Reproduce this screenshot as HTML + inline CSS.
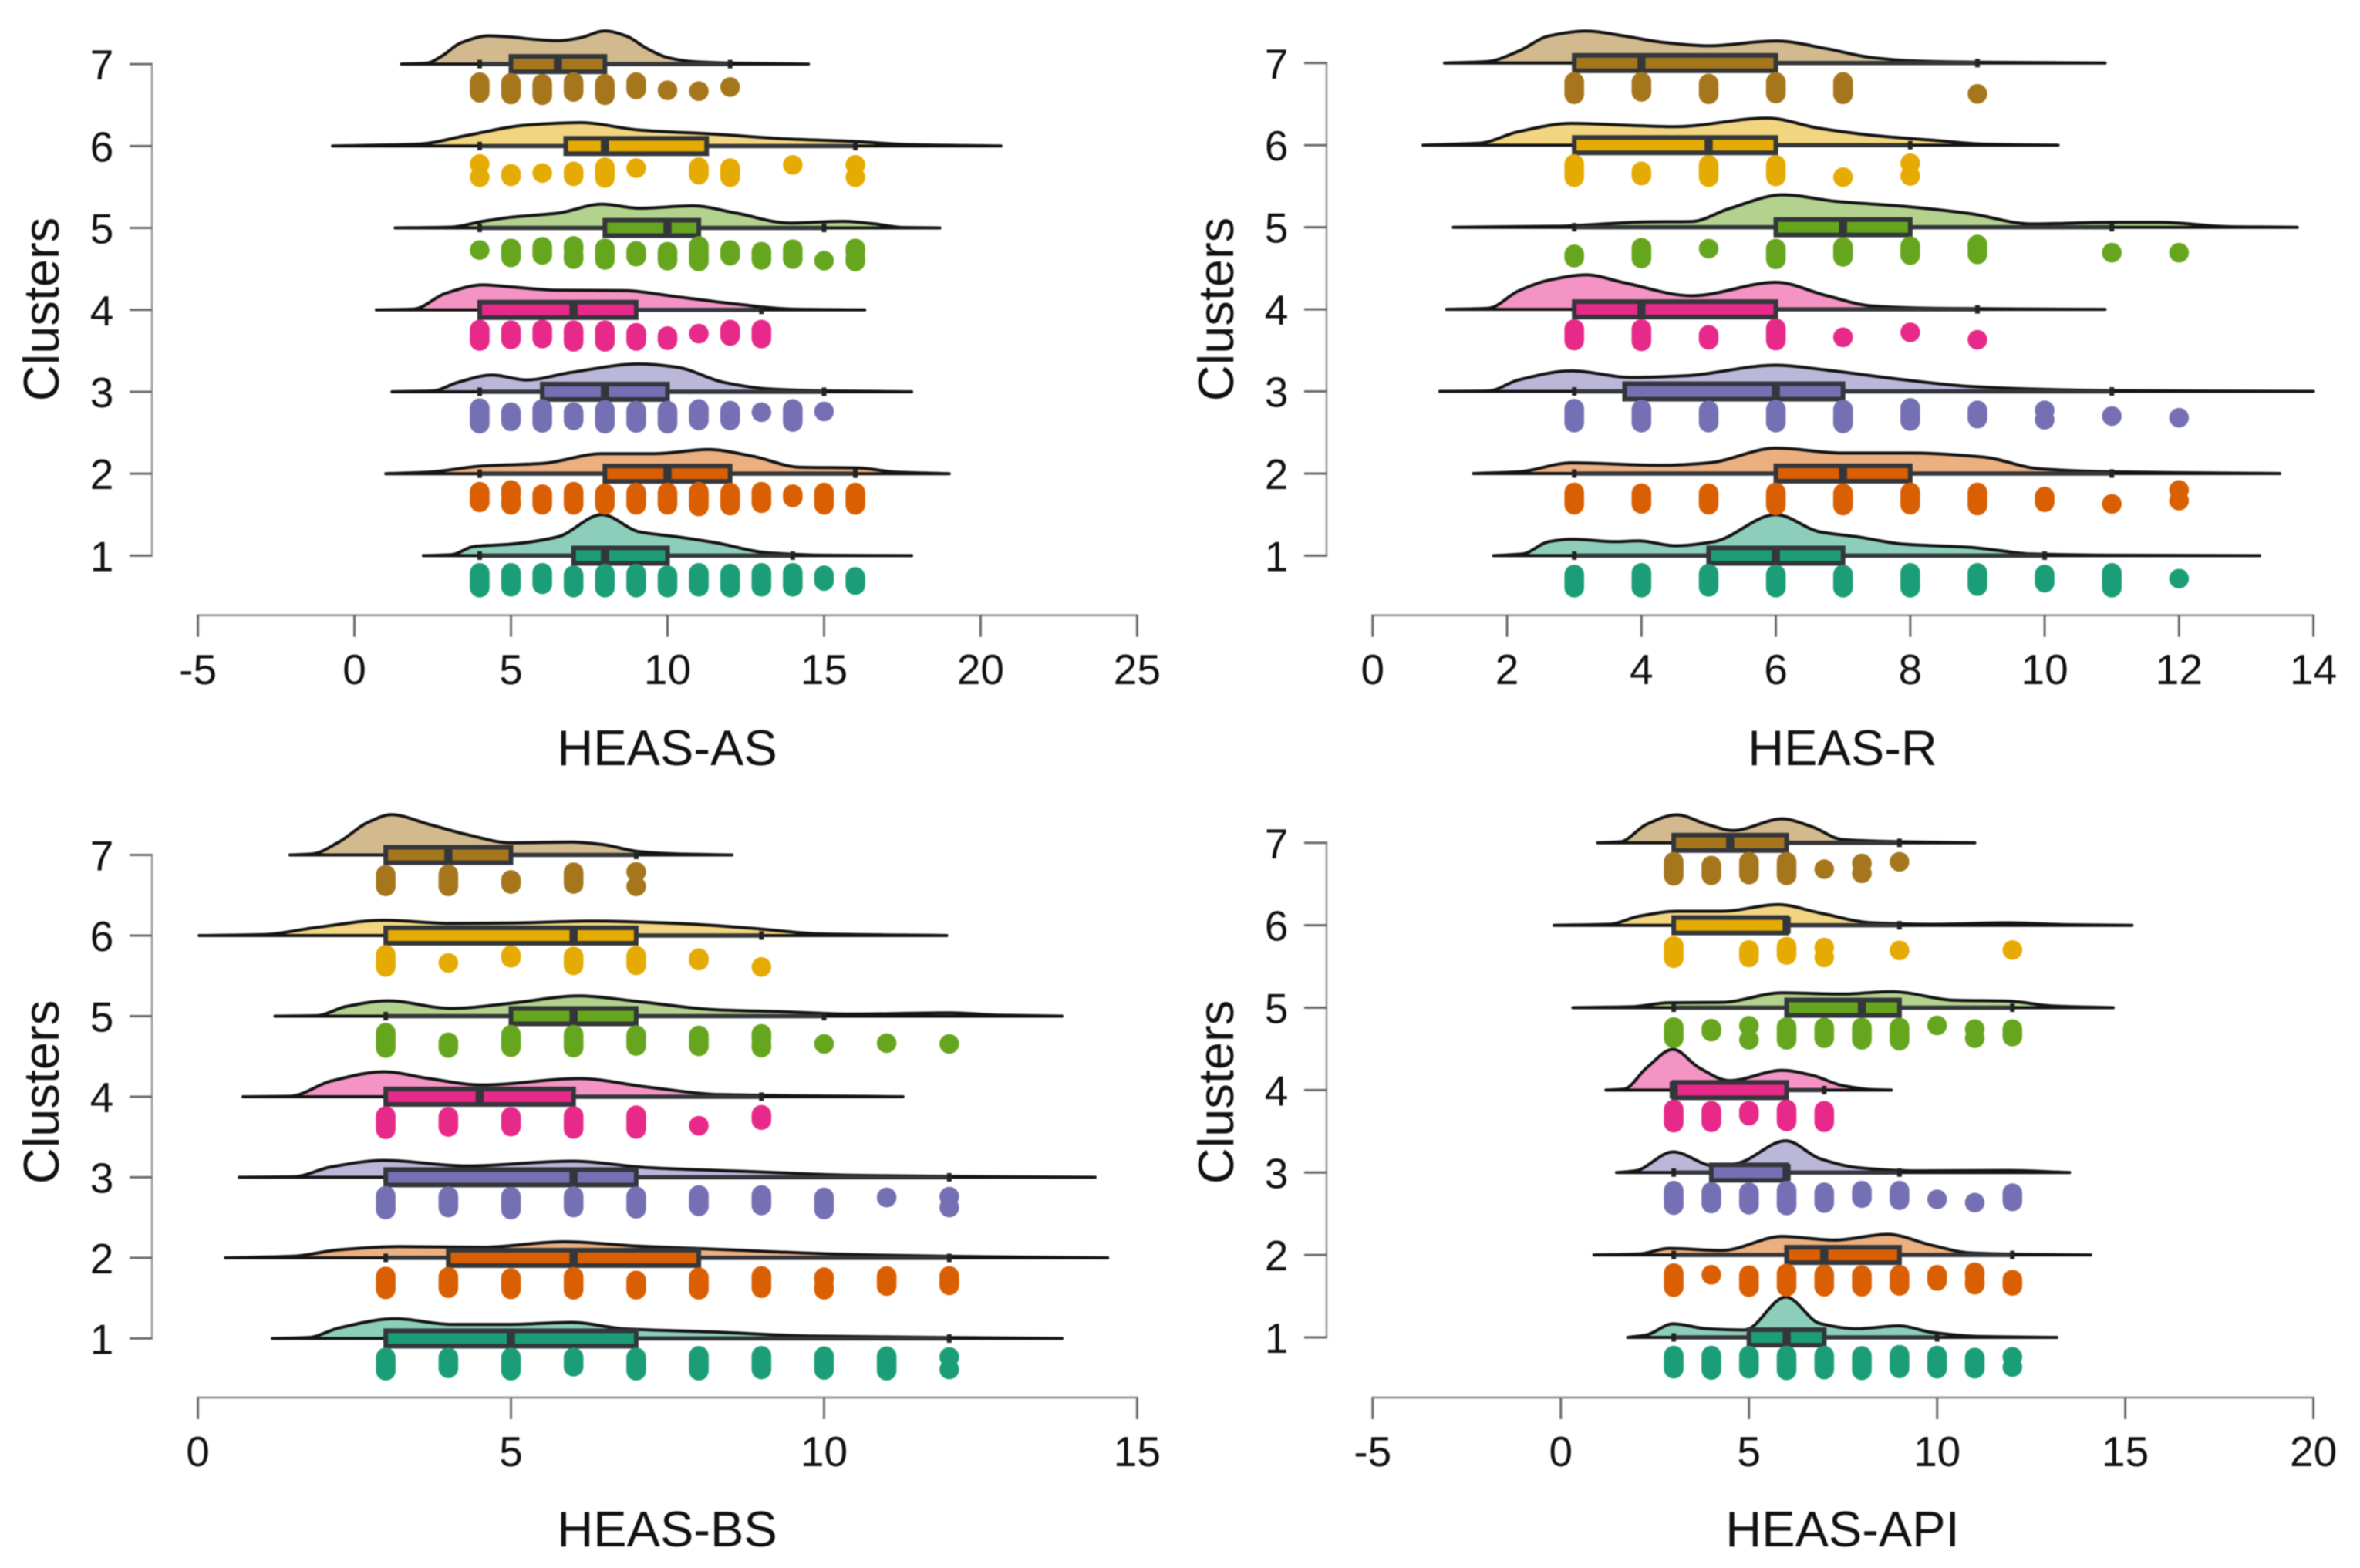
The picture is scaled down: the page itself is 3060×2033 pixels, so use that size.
<!DOCTYPE html>
<html lang="en">
<head>
<meta charset="utf-8">
<title>HEAS raincloud plots by cluster</title>
<style>
html,body{margin:0;padding:0;background:#fff;}
svg{display:block;filter:blur(0.7px);}
text{font-family:"Liberation Sans",sans-serif;fill:#111;}
.tick{font-size:55px;text-anchor:middle;}
.title{font-size:65px;text-anchor:middle;}
</style>
</head>
<body>
<svg id="chart" xmlns="http://www.w3.org/2000/svg" width="3060" height="2033" viewBox="0 0 3060 2033">
  <rect x="0" y="0" width="3060" height="2033" fill="#ffffff"/>
  <g id="panel-as"></g>
  <g id="panel-r"></g>
  <g id="panel-bs"></g>
  <g id="panel-api"></g>
  <text class="title" x="865" y="992">HEAS-AS</text>
  <text class="title" x="2389" y="992">HEAS-R</text>
  <text class="title" x="865" y="2005">HEAS-BS</text>
  <text class="title" x="2389" y="2005">HEAS-API</text>
  <text class="title" transform="translate(76,401) rotate(-90)">Clusters</text>
  <text class="title" transform="translate(1599,401) rotate(-90)">Clusters</text>
  <text class="title" transform="translate(76,1416) rotate(-90)">Clusters</text>
  <text class="title" transform="translate(1599,1416) rotate(-90)">Clusters</text>
</svg>
<script>
// Cluster order, bottom to top
const clusters = [1, 2, 3, 4, 5, 6, 7];
const palette = ['#1B9E77', '#D95F02', '#7570B3', '#E7298A', '#66A61E', '#E6AB02', '#A6761D'];

// Tick labels
const asTicks = [-5, 0, 5, 10, 15, 20, 25];
const rTicks = [0, 2, 4, 6, 8, 10, 12, 14];
const bsTicks = [0, 5, 10, 15];
const apiTicks = [-5, 0, 5, 10, 15, 20];

// Box summaries per cluster: q1, median, q3, whisker low, whisker high
const asBoxes = [[7,8,10,4,14],[8,10,12,4,16],[6,8,10,4,15],[4,7,9,4,13],[8,10,11,4,15],[6.75,8,11.25,4,16],[5,6.5,8,4,12]];
const rBoxes = [[5,6,7,3,10],[6,7,8,3,11],[3.75,6,7,3,11],[3,4,6,3,9],[6,7,8,3,11],[3,5,6,3,8],[3,4,6,3,9]];
const bsBoxes = [[3,5,7,3,12],[4,6,8,3,12],[3,6,7,3,12],[3,4.5,6,3,9],[5,6,7,3,10],[3,6,7,3,9],[3,4,5,3,7]];
const apiBoxes = [[5,6,7,3,10],[6,7,9,3,12],[4,6,6,3,9],[3,3,6,3,7],[6,8,9,3,12],[3,6,6,3,9],[3,4.5,6,3,9]];

// Density outlines per cluster: [score, density height in cluster-row units]
const asDensity = [
 [[2.2,0],[3.1,.01],[3.8,.11],[5,.14],[6.5,.23],[7.9,.5],[9.1,.29],[10.3,.23],[11.5,.16],[13.2,.035],[15,.005],[17.8,0]],
 [[1,0],[2.4,.02],[4.1,.095],[6,.125],[7.9,.245],[9.6,.245],[11.3,.295],[12.7,.215],[14.2,.08],[16.1,.07],[17.3,.02],[19,0]],
 [[1.2,0],[2.5,.01],[3.3,.115],[4.4,.205],[5.5,.145],[6.9,.235],[9.1,.34],[10.3,.3],[11.8,.115],[13.2,.035],[15.1,.01],[17.8,0]],
 [[.7,0],[1.9,.01],[2.9,.2],[4.1,.305],[5,.28],[6.5,.24],[8.6,.235],[10.3,.16],[12.2,.07],[13.9,.01],[16.3,0]],
 [[1.3,0],[3.1,.01],[4.1,.08],[5,.13],[6.5,.18],[7.9,.29],[9.1,.24],[10.8,.27],[12.2,.18],[13.9,.06],[15.6,.08],[16.6,.05],[17.5,.005],[18.7,0]],
 [[-.7,0],[2.1,.025],[3.6,.13],[5.5,.255],[7.2,.285],[9.1,.195],[11.5,.145],[13.9,.085],[16,.055],[17.5,.02],[20.65,0]],
 [[1.5,0],[2.3,.01],[2.8,.1],[3.4,.26],[4.3,.345],[5,.33],[5.8,.3],[6.5,.285],[7.2,.32],[8,.405],[8.7,.34],[9.3,.2],[10,.08],[10.8,.03],[12,.012],[14.5,0]]
];
const rDensity = [
 [[1.8,0],[2.23,.02],[2.62,.17],[2.96,.2],[3.63,.17],[3.96,.18],[4.5,.12],[5.08,.17],[6,.5],[6.65,.29],[7.2,.23],[7.9,.14],[8.9,.1],[9.34,.06],[9.8,.02],[11,.005],[13.2,0]],
 [[1.5,0],[2.17,.02],[2.96,.13],[4.3,.1],[5,.13],[6,.31],[7,.25],[8,.25],[9.1,.2],[9.9,.06],[11,.02],[12,.01],[13.5,0]],
 [[1,0],[1.72,.005],[2.17,.14],[2.96,.25],[3.85,.17],[4.64,.19],[6,.32],[6.76,.26],[7.77,.155],[8.9,.06],[10,.025],[11,.01],[14,0]],
 [[1.1,0],[1.72,.012],[2.17,.225],[2.62,.355],[3.18,.42],[3.74,.325],[4.75,.165],[6,.33],[6.76,.165],[7.44,.04],[8.33,.012],[10.9,0]],
 [[1.2,0],[2.73,.012],[4.08,.065],[4.75,.07],[5.3,.225],[6.1,.395],[6.9,.315],[7.9,.255],[8.9,.165],[9.8,.04],[11,.06],[11.7,.06],[12.8,.005],[13.76,0]],
 [[.75,0],[1.6,.025],[2.17,.165],[2.96,.265],[3.85,.24],[4.5,.225],[5.87,.33],[6.65,.205],[7.44,.12],[8.33,.06],[9.1,.012],[10.2,0]],
 [[1.07,0],[1.72,.02],[2.17,.145],[2.62,.33],[3.18,.39],[3.74,.33],[4.3,.255],[5,.21],[6,.27],[6.76,.175],[7.4,.07],[8.1,.025],[9,.01],[10.9,0]]
];
const bsDensity = [
 [[1.19,0],[1.77,.012],[2.25,.13],[3.15,.245],[4.05,.175],[5,.175],[5.97,.2],[6.81,.12],[8.26,.08],[9.82,.03],[11.86,.012],[13.8,0]],
 [[.44,0],[1.53,.02],[2.25,.1],[3.21,.14],[4.53,.13],[5.85,.2],[7.05,.145],[8.5,.1],[10.06,.05],[11.86,.02],[14.53,0]],
 [[.66,0],[1.53,.006],[2.13,.13],[2.97,.21],[4.29,.14],[5.97,.2],[7.17,.12],[8.86,.07],[10.4,.025],[12,.012],[14.33,0]],
 [[.72,0],[1.47,.005],[2.13,.195],[2.97,.31],[3.69,.225],[4.53,.145],[6.09,.225],[7.17,.12],[8.37,.025],[11.26,0]],
 [[1.23,0],[1.89,.005],[2.37,.12],[3.03,.19],[4.05,.095],[5,.16],[6.09,.25],[7.05,.18],[8.26,.08],[9.34,.055],[10.4,.025],[12,.04],[12.8,.012],[13.8,0]],
 [[.02,0],[1.05,.012],[1.89,.1],[2.97,.19],[4.05,.15],[5,.155],[6.33,.18],[7.66,.15],[8.86,.09],[9.94,.02],[11.96,0]],
 [[1.47,0],[1.83,.012],[2.25,.16],[2.73,.41],[3.09,.5],[3.69,.38],[4.29,.255],[5,.15],[5.97,.16],[6.45,.13],[7.05,.04],[7.66,.012],[8.53,0]]
];
const apiDensity = [
 [[1.78,0],[2.28,.03],[2.98,.165],[3.88,.105],[4.88,.09],[5.98,.49],[6.88,.17],[7.88,.105],[8.98,.14],[9.88,.06],[11.08,.012],[13.18,0]],
 [[.88,0],[2.08,.012],[2.88,.08],[4.28,.055],[5.88,.225],[7.28,.18],[8.68,.25],[9.88,.115],[10.88,.025],[12.48,.006],[14.08,0]],
 [[1.48,0],[1.98,.02],[2.98,.25],[4.08,.08],[4.68,.11],[5.98,.385],[6.88,.17],[7.88,.06],[9.48,.02],[11.88,.025],[13.52,0]],
 [[1.2,0],[1.68,.012],[2.28,.27],[2.98,.495],[3.68,.27],[4.48,.115],[5.88,.24],[6.68,.18],[7.48,.055],[8.28,.006],[8.78,0]],
 [[.32,0],[1.88,.012],[2.88,.06],[4.28,.065],[5.88,.18],[7.48,.165],[8.78,.195],[10.48,.09],[11.88,.08],[13.08,.02],[14.68,0]],
 [[-.18,0],[1.28,.012],[2.08,.11],[3.08,.17],[4.28,.17],[5.78,.25],[6.88,.15],[8.28,.03],[9.88,.012],[11.88,.03],[13.5,.006],[15.18,0]],
 [[.98,0],[1.58,.012],[2.28,.225],[3.08,.34],[3.88,.225],[4.58,.15],[5.88,.29],[6.68,.195],[7.48,.04],[9.08,.012],[11,0]]
];

// Rain points per cluster: [score, jitter top, jitter bottom] (jitter in cluster-row units below the row)
const asDots = [
 [[4,.21,.39],[5,.21,.38],[6,.21,.35],[7,.24,.39],[8,.22,.39],[9,.22,.39],[10,.24,.39],[11,.21,.38],[12,.22,.39],[13,.21,.38],[14,.21,.38],[15,.24,.31],[16,.26,.36]],
 [[4,.22,.35],[5,.2,.25],[5,.33,.38],[6,.25,.38],[7,.22,.38],[8,.24,.38],[9,.23,.38],[10,.23,.38],[11,.22,.4],[12,.23,.39],[13,.22,.36],[14,.25,.29],[15,.23,.38],[16,.23,.38]],
 [[4,.2,.39],[5,.25,.36],[6,.21,.38],[7,.25,.35],[8,.22,.39],[9,.23,.38],[10,.23,.39],[11,.21,.35],[12,.23,.35],[13,.25,.25],[14,.21,.37],[15,.24,.24]],
 [[4,.24,.38],[5,.25,.36],[6,.24,.35],[7,.25,.39],[8,.25,.39],[9,.28,.38],[10,.32,.37],[11,.29,.29],[12,.24,.32],[13,.24,.35]],
 [[4,.27,.27],[5,.25,.36],[6,.23,.33],[7,.22,.26],[7,.33,.38],[8,.25,.39],[9,.28,.35],[10,.29,.4],[11,.22,.41],[12,.27,.34],[13,.29,.39],[14,.26,.29],[14,.34,.38],[15,.4,.4],[16,.25,.29],[16,.37,.41]],
 [[4,.22,.22],[4,.38,.38],[5,.34,.37],[6,.33,.33],[7,.31,.37],[8,.26,.39],[9,.27,.27],[11,.26,.35],[12,.27,.38],[14,.23,.23],[16,.23,.23],[16,.38,.38]],
 [[4,.22,.35],[5,.23,.37],[6,.24,.38],[7,.22,.34],[8,.24,.38],[9,.22,.31],[10,.32,.32],[11,.33,.33],[12,.28,.28]]
];
const rDots = [
 [[3,.23,.39],[4,.21,.39],[5,.22,.38],[6,.23,.39],[7,.23,.39],[8,.21,.39],[9,.21,.37],[10,.23,.33],[11,.21,.39],[12,.28,.28]],
 [[3,.23,.38],[4,.24,.37],[5,.24,.38],[6,.23,.39],[7,.24,.39],[8,.23,.38],[9,.23,.39],[10,.28,.35],[11,.37,.37],[12,.2,.2],[12,.33,.33]],
 [[3,.21,.38],[4,.22,.38],[5,.23,.38],[6,.22,.38],[7,.22,.39],[8,.2,.36],[9,.23,.33],[10,.23,.23],[10,.345,.345],[11,.3,.3],[12,.32,.32]],
 [[3,.24,.38],[4,.24,.39],[5,.31,.37],[6,.23,.38],[7,.34,.34],[8,.28,.28],[9,.37,.37]],
 [[3,.33,.37],[4,.25,.38],[5,.26,.26],[6,.26,.39],[7,.24,.36],[8,.23,.34],[9,.21,.25],[9,.31,.33],[11,.31,.31],[12,.31,.31]],
 [[3,.23,.39],[4,.32,.37],[5,.24,.39],[6,.24,.38],[7,.39,.39],[8,.22,.22],[8,.375,.375]],
 [[3,.23,.38],[4,.23,.35],[5,.25,.38],[6,.23,.37],[7,.23,.38],[9,.375,.375]]
];
const bsDots = [
 [[3,.235,.4],[4,.235,.37],[5,.235,.4],[6,.235,.35],[7,.235,.4],[8,.215,.4],[9,.215,.385],[10,.22,.39],[11,.22,.4],[12,.23,.23],[12,.385,.385]],
 [[3,.23,.39],[4,.235,.375],[5,.25,.39],[6,.235,.395],[7,.28,.395],[8,.24,.395],[9,.225,.375],[10,.24,.27],[10,.36,.395],[11,.225,.35],[12,.225,.34]],
 [[3,.23,.4],[4,.235,.375],[5,.24,.4],[6,.235,.375],[7,.235,.39],[8,.22,.36],[9,.22,.35],[10,.25,.4],[11,.25,.25],[12,.24,.24],[12,.375,.375]],
 [[3,.24,.405],[4,.25,.375],[5,.25,.37],[6,.24,.4],[7,.23,.4],[8,.36,.36],[9,.225,.29]],
 [[3,.205,.395],[4,.325,.395],[5,.23,.385],[6,.23,.39],[7,.235,.37],[8,.24,.375],[9,.22,.28],[9,.34,.39],[10,.345,.345],[11,.335,.335],[12,.345,.345]],
 [[3,.24,.39],[4,.34,.34],[5,.245,.275],[6,.26,.37],[7,.25,.37],[8,.28,.31],[9,.39,.39]],
 [[3,.245,.39],[4,.24,.39],[5,.31,.36],[6,.215,.36],[7,.21,.21],[7,.39,.39]]
];
const apiDots = [
 [[3,.22,.38],[4,.22,.395],[5,.22,.38],[6,.22,.4],[7,.22,.39],[8,.225,.4],[9,.21,.375],[10,.22,.38],[11,.245,.38],[12,.235,.235],[12,.36,.36]],
 [[3,.22,.39],[4,.24,.24],[5,.245,.39],[6,.225,.385],[7,.235,.385],[8,.245,.385],[9,.24,.375],[10,.24,.315],[11,.21,.25],[11,.32,.36],[12,.3,.375]],
 [[3,.22,.395],[4,.235,.375],[5,.24,.39],[6,.22,.4],[7,.24,.37],[8,.22,.31],[9,.22,.335],[10,.325,.325],[11,.365,.365],[12,.25,.35]],
 [[3,.235,.395],[4,.25,.39],[5,.25,.31],[6,.235,.38],[7,.25,.39]],
 [[3,.235,.37],[4,.255,.29],[5,.22,.22],[5,.39,.39],[6,.235,.39],[7,.24,.37],[8,.24,.39],[9,.24,.4],[10,.215,.215],[11,.26,.26],[11,.37,.37],[12,.26,.35]],
 [[3,.25,.4],[5,.3,.39],[6,.26,.36],[7,.27,.27],[7,.39,.39],[9,.305,.305],[12,.3,.3]],
 [[3,.23,.4],[4,.275,.395],[5,.23,.385],[6,.23,.395],[7,.32,.32],[8,.25,.25],[8,.37,.37],[9,.23,.23]]
];

const SVGNS = 'http://www.w3.org/2000/svg';
function mk(tag, parent, attrs) {
  const el = document.createElementNS(SVGNS, tag);
  for (const k in attrs) el.setAttribute(k, attrs[k]);
  parent.appendChild(el);
  return el;
}
// Monotone cubic curve through the density outline (no overshoot below the row baseline)
function smoothPath(pts) {
  const n = pts.length, dx = [], sl = [], m = [];
  for (let i = 0; i < n - 1; i++) {
    dx[i] = pts[i + 1][0] - pts[i][0];
    sl[i] = (pts[i + 1][1] - pts[i][1]) / dx[i];
  }
  m[0] = sl[0];
  m[n - 1] = sl[n - 2];
  for (let i = 1; i < n - 1; i++) {
    if (sl[i - 1] * sl[i] <= 0) {
      m[i] = 0;
    } else {
      const w1 = 2 * dx[i] + dx[i - 1], w2 = dx[i] + 2 * dx[i - 1];
      m[i] = (w1 + w2) / (w1 / sl[i - 1] + w2 / sl[i]);
    }
  }
  let d = 'M' + pts[0][0].toFixed(1) + ' ' + pts[0][1].toFixed(1);
  for (let i = 0; i < n - 1; i++) {
    const h = dx[i] / 3;
    d += 'C' + (pts[i][0] + h).toFixed(1) + ' ' + (pts[i][1] + m[i] * h).toFixed(1) + ' ' +
      (pts[i + 1][0] - h).toFixed(1) + ' ' + (pts[i + 1][1] - m[i + 1] * h).toFixed(1) + ' ' +
      pts[i + 1][0].toFixed(1) + ' ' + pts[i + 1][1].toFixed(1);
  }
  return d;
}
function drawPanel(id, ticks, boxes, density, dots, frame) {
  const root = document.getElementById(id);
  const domainMin = ticks[0], domainMax = ticks[ticks.length - 1];
  const xScale = v => frame.left + (v - domainMin) / (domainMax - domainMin) * (frame.right - frame.left);
  const rowStep = (frame.row1 - frame.row7) / (clusters.length - 1);
  const yScale = c => frame.row1 - (c - clusters[0]) * rowStep;

  // axes
  const xAxis = mk('line', root, {x1: frame.left - 1.5, x2: frame.right + 1.5, y1: frame.axisY, y2: frame.axisY, stroke: '#9a9a9a', 'stroke-width': 3});
  
  
  ticks.forEach(t => {
    const tk = mk('line', root, {x1: xScale(t), x2: xScale(t), y1: frame.axisY, y2: frame.axisY + 28, stroke: '#6a6a6a', 'stroke-width': 3});
    
    
    const lb = mk('text', root, {x: xScale(t), y: frame.labelY, class: 'tick'});
    lb.textContent = String(t);
    
    
  });
  const yAxis = mk('line', root, {x1: frame.axisX, x2: frame.axisX, y1: yScale(7) - 1.5, y2: yScale(1) + 1.5, stroke: '#a8a8a8', 'stroke-width': 3});
  
  
  clusters.forEach(c => {
    const tk = mk('line', root, {x1: frame.axisX - 29, x2: frame.axisX, y1: yScale(c), y2: yScale(c), stroke: '#6a6a6a', 'stroke-width': 3});
    
    
    const lb = mk('text', root, {x: frame.axisX - 65, y: yScale(c) + 20, class: 'tick'});
    lb.textContent = String(c);
    
    
  });

  clusters.forEach((c, i) => {
    const base = yScale(c), color = palette[i];
    const group = mk('g', root, {});
    
    

    // density cloud
    const pts = density[i].map(p => [xScale(p[0]), base - p[1] * rowStep]);
    const cloud = mk('path', group, {d: smoothPath(pts) + 'Z', fill: color, 'fill-opacity': 0.5, stroke: '#141414', 'stroke-width': 4, 'stroke-linejoin': 'round'});
    
    

    // whisker
    const b = boxes[i];
    const whisker = mk('line', group, {x1: xScale(b[3]), x2: xScale(b[4]), y1: base, y2: base, stroke: '#33363a', 'stroke-width': 5.5});
    
    
    [b[3], b[4]].forEach(w => {
      const cap = mk('line', group, {x1: xScale(w), x2: xScale(w), y1: base - 5.5, y2: base + 5.5, stroke: '#222', 'stroke-width': 6});
      
      
    });

    // box and median
    const box = mk('rect', group, {x: xScale(b[0]), y: base - 10, width: xScale(b[2]) - xScale(b[0]), height: 20, fill: color, stroke: '#33363a', 'stroke-width': 6});
    
    
    const med = mk('line', group, {x1: xScale(b[1]), x2: xScale(b[1]), y1: base - 11, y2: base + 11, stroke: '#33363a', 'stroke-width': 10.5});
    
    

    // rain points
    dots[i].forEach(d => {
      const rain = mk('line', group, {x1: xScale(d[0]), x2: xScale(d[0]), y1: base + d[1] * rowStep, y2: base + d[2] * rowStep + 0.01, stroke: color, 'stroke-width': 25.5, 'stroke-linecap': 'round'});
      
      
    });
  });
}
drawPanel('panel-as', asTicks, asBoxes, asDensity, asDots, {left: 256.6, right: 1474.4, row7: 83.1, row1: 720.4, axisY: 797.7, axisX: 197, labelY: 887});
drawPanel('panel-r', rTicks, rBoxes, rDensity, rDots, {left: 1779.8, right: 2999.6, row7: 81.8, row1: 720.4, axisY: 797.7, axisX: 1720, labelY: 887});
drawPanel('panel-bs', bsTicks, bsBoxes, bsDensity, bsDots, {left: 256.6, right: 1474.4, row7: 1108.5, row1: 1735.4, axisY: 1812, axisX: 197, labelY: 1901});
drawPanel('panel-api', apiTicks, apiBoxes, apiDensity, apiDots, {left: 1779.8, right: 2999.6, row7: 1092.8, row1: 1734, axisY: 1812, axisX: 1720, labelY: 1901});
</script>
</body>
</html>
